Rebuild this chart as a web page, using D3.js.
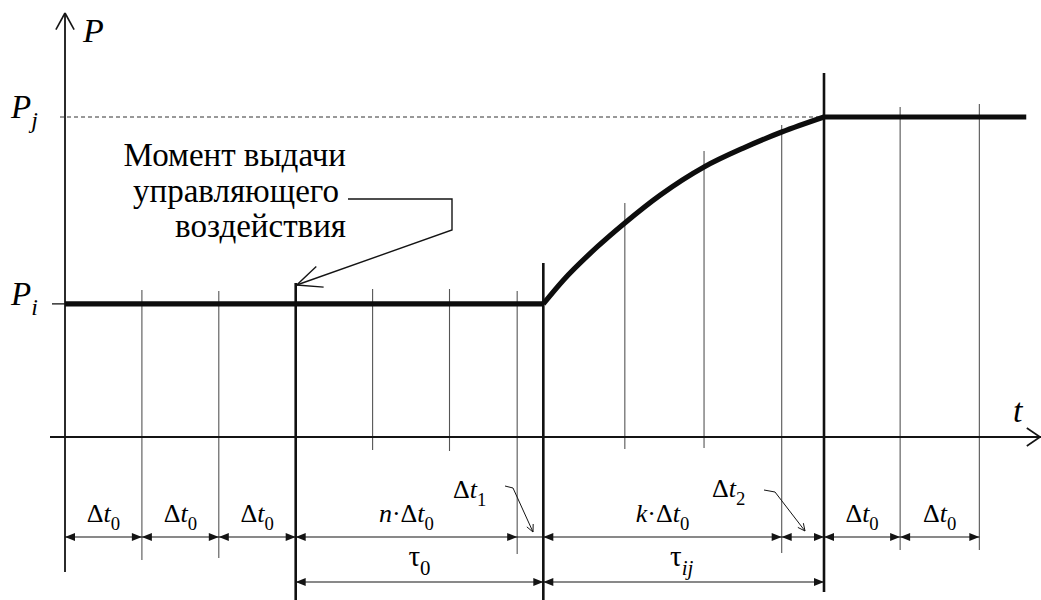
<!DOCTYPE html>
<html><head><meta charset="utf-8">
<script src="https://cdn.jsdelivr.net/npm/d3@7/dist/d3.min.js"></script>
<style>
svg text, svg tspan { font-family: "Liberation Serif" !important; }
</style>
</head>
<body style="margin:0"><svg id="c" width="1041" height="600"></svg>
<script>
// ---- data (time in units of Δt0, P normalised so that Pj = 1) ----
const levelNames = ["P_i", "P_j"];
const levelValues = [0.416, 1.0];
const gridTimes = [1, 2, 3, 4, 5, 5.88, 6.22, 7.28, 8.31, 9.32, 9.87, 10.86, 11.89];
const curveT = [6.22, 6.48, 6.92, 7.28, 7.74, 8.31, 8.82, 9.32, 9.87];
const curveP = [0.416, 0.49, 0.594, 0.669, 0.756, 0.844, 0.903, 0.953, 1.0];
const tStart = 0, tEnd = 12.5;
const commandT = 3;           // момент выдачи управляющего воздействия
const rowOneBounds = [0, 1, 2, 3, 5.88, 6.22, 9.32, 9.87, 10.86, 11.89];
const rowOneLabels = ["Δt0", "Δt0", "Δt0", "n·Δt0", "Δt1", "k·Δt0", "Δt2", "Δt0", "Δt0"];
const rowTwoBounds = [3, 6.22, 9.87];
const rowTwoLabels = ["τ0", "τij"];

// ---- layout ----
const FONT = "Liberation Serif";
const svg = d3.select("#c");
const x = d3.scaleLinear().domain([0, 10]).range([65, 834]);
const y = d3.scaleLinear().domain([0, 1]).range([437, 117]);
const gridExtent = { // pixel extents of the vertical guide lines
  1: [290, 560], 2: [291, 558], 3: [283, 600], 4: [289, 450], 5: [289, 451],
  5.88: [291, 554], 6.22: [263, 600], 7.28: [203, 449], 8.31: [151, 448],
  9.32: [125, 553], 9.87: [73, 592], 10.86: [107, 550], 11.89: [104, 550]
};
const thickTimes = [3, 6.22, 9.87];
const row1Y = 537, row2Y = 582;
const ink = "#141414";

function line(x1, y1, x2, y2, w, col, dash) {
  const l = svg.append("line").attr("x1", x1).attr("y1", y1).attr("x2", x2).attr("y2", y2)
    .attr("stroke", col || ink).attr("stroke-width", w || 1);
  if (dash) l.attr("stroke-dasharray", dash);
  return l;
}
function openHead(tx, ty, fx, fy, len, ang, w) {
  const a = Math.atan2(fy - ty, fx - tx);
  [ang, -ang].forEach(d => {
    line(tx, ty, tx + len * Math.cos(a + d), ty + len * Math.sin(a + d), w || 1.2);
  });
}
function solidHead(tx, ty, dir) { // dir = +1 points right, -1 points left
  const L = 10, h = 4;
  svg.append("path")
    .attr("d", `M${tx},${ty}L${tx - dir * L},${ty - h}L${tx - dir * L},${ty + h}Z`)
    .attr("fill", ink);
}
function rich(xp, yp, parts, size, anchor) {
  const t = svg.append("text").attr("x", xp).attr("y", yp)
    .attr("font-family", FONT).attr("font-size", size)
    .attr("text-anchor", anchor || "middle");
  parts.forEach(p => {
    const s = t.append("tspan").text(p.s);
    if (p.i) s.attr("font-style", "italic");
    if (p.sub) s.attr("font-size", size * 0.72).attr("dy", size * 0.3);
  });
  return t;
}
function parseLabel(lbl) {
  const parts = [];
  if (lbl.startsWith("n·") || lbl.startsWith("k·")) {
    parts.push({ s: lbl[0], i: true }, { s: "·" });
    lbl = lbl.slice(2);
  }
  if (lbl.startsWith("Δt")) {
    parts.push({ s: "Δ" }, { s: "t", i: true }, { s: lbl.slice(2), sub: true });
  } else if (lbl.startsWith("τ")) {
    const sub = lbl.slice(1);
    parts.push({ s: "τ" }, { s: sub, sub: true, i: /[a-z]/.test(sub) });
  }
  return parts;
}

// ---- annotation (first, plain text) ----
const noteLines = ["Момент выдачи", "управляющего", "воздействия"];
const noteEnds = [346, 339, 346], noteBase = [166, 202, 237];
noteLines.forEach((s, i) => {
  svg.append("text").attr("x", noteEnds[i]).attr("y", noteBase[i])
    .attr("font-family", FONT).attr("font-size", 33)
    .attr("text-anchor", "end").text(s);
});
svg.append("path").attr("d", `M348,199H452V230L${x(commandT) + 1},285`)
  .attr("fill", "none").attr("stroke", ink).attr("stroke-width", 1.4);
openHead(x(commandT) + 1, 285, 452, 230, 27, 0.42, 1.4);

// ---- dashed Pj level ----
line(60, y(levelValues[1]), x(9.87), y(levelValues[1]), 1, "#333", "4,3");

// ---- vertical guide lines ----
gridTimes.forEach(t => {
  const e = gridExtent[t];
  const thick = thickTimes.includes(t);
  line(x(t), e[0], x(t), e[1], thick ? 2.6 : 1.1, thick ? "#111" : "#555");
});

// ---- axes ----
line(x(0), 13, x(0), 572, 1.8);
openHead(x(0), 13, x(0), 40, 19, 0.5, 1.6);
line(50, y(0), 1041, y(0), 1.8);
openHead(1040, y(0), 1000, y(0), 16, 0.6, 1.6);
line(52, y(levelValues[0]), x(0), y(levelValues[0]), 1.3);

rich(83, 42, [{ s: "P", i: true }], 34, "start");
rich(1013, 422, [{ s: "t", i: true }], 34, "start");
rich(11, 118, [{ s: "P", i: true }, { s: "j", i: true, sub: true }], 33, "start");
rich(11, 305, [{ s: "P", i: true }, { s: "i", i: true, sub: true }], 33, "start");

// ---- process curve ----
const thick = 5.2;
line(x(tStart), y(levelValues[0]), x(curveT[0]), y(levelValues[0]), thick, "#0d0d0d");
svg.append("path")
  .datum(curveT.map((t, i) => [t, curveP[i]]))
  .attr("d", d3.line().x(d => x(d[0])).y(d => y(d[1])).curve(d3.curveMonotoneX))
  .attr("fill", "none").attr("stroke", "#0d0d0d").attr("stroke-width", thick)
  .attr("stroke-linejoin", "round");
line(x(curveT[curveT.length - 1]), y(levelValues[1]), x(tEnd), y(levelValues[1]), thick, "#0d0d0d");

// ---- dimension row 1 ----
line(x(rowOneBounds[0]), row1Y, x(rowOneBounds[rowOneBounds.length - 1]), row1Y, 1.2);
for (let i = 0; i < rowOneBounds.length - 1; i++) {
  const a = rowOneBounds[i], b = rowOneBounds[i + 1];
  if (rowOneLabels[i] === "Δt1") continue;
  solidHead(x(a), row1Y, -1);
  solidHead(x(b), row1Y, +1);
  if (rowOneLabels[i] === "Δt2") continue;
  rich((x(a) + x(b)) / 2, 522, parseLabel(rowOneLabels[i]), 26);
}
// Δt1 and Δt2 callouts
rich(453, 498, parseLabel("Δt1"), 26, "start");
svg.append("path").attr("d", "M505,486L513,488L533,532").attr("fill", "none").attr("stroke", ink).attr("stroke-width", 1);
openHead(533, 532, 513, 488, 8, 0.45, 1);
rich(712, 497, parseLabel("Δt2"), 26, "start");
svg.append("path").attr("d", "M764,490L775,492L805,531").attr("fill", "none").attr("stroke", ink).attr("stroke-width", 1);
openHead(805, 531, 775, 492, 8, 0.45, 1);

// ---- dimension row 2 ----
line(x(rowTwoBounds[0]), row2Y, x(rowTwoBounds[rowTwoBounds.length - 1]), row2Y, 1.2);
for (let i = 0; i < rowTwoBounds.length - 1; i++) {
  const a = rowTwoBounds[i], b = rowTwoBounds[i + 1];
  solidHead(x(a), row2Y, -1);
  solidHead(x(b), row2Y, +1);
  rich((x(a) + x(b)) / 2 + (i === 0 ? 0 : -2), 566, parseLabel(rowTwoLabels[i]), 29);
}
</script></body></html>
